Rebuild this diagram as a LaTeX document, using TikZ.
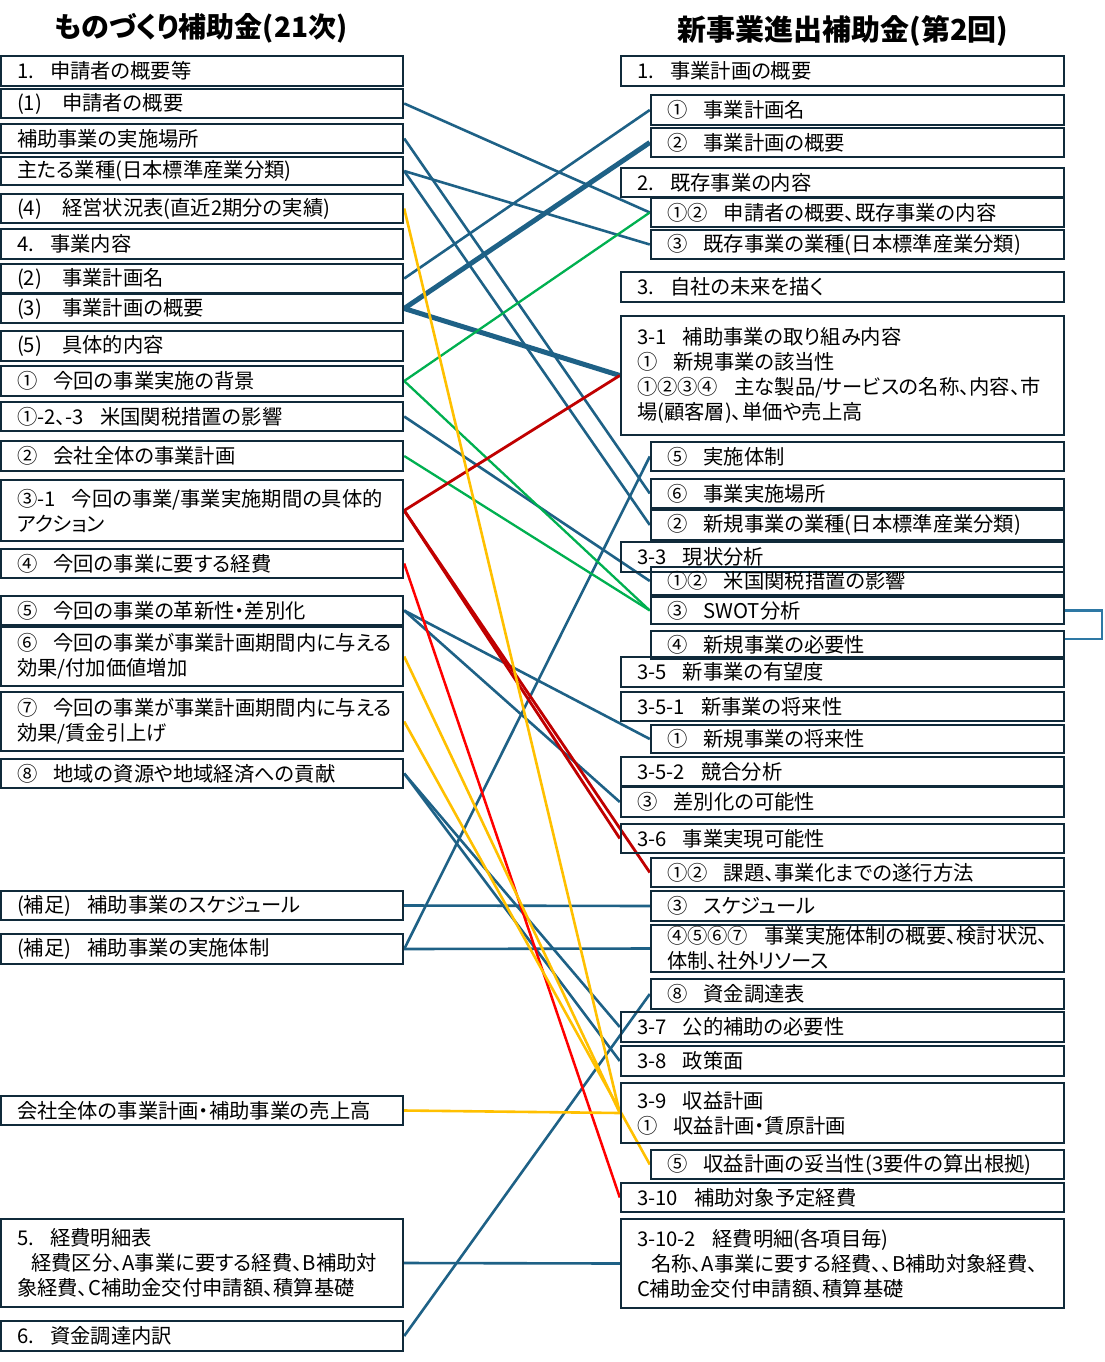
\documentclass[tikz,border=0pt]{standalone}
\usepackage{fontspec}
\setmainfont{Noto Sans CJK JP}[RawFeature=+palt]
\usetikzlibrary{backgrounds}
\definecolor{boxc}{HTML}{102A3A}
\definecolor{cblue}{HTML}{1E6186}
\definecolor{cbrk}{HTML}{2E78A4}
\definecolor{cgreen}{HTML}{00B050}
\definecolor{cyellow}{HTML}{FFC000}
\definecolor{cred}{HTML}{FF0000}
\definecolor{cdred}{HTML}{C00000}
\newcommand{\zgap}{\kern0.8em}
\newcommand{\zpgap}{\kern1.0em}
\newcommand{\zind}{\hspace*{0.7em}}
\newcommand{\bxx}[6]{%
  \pgfmathsetmacro{\zzw}{#4-#2}%
  \pgfmathsetmacro{\zzh}{#5-#3}%
  \pgfmathsetmacro{\zzt}{#4-#2-32}%
  \pgfmathsetmacro{\zzx}{(#2+#4)/2}%
  \pgfmathsetmacro{\zzy}{(#3+#5)/2}%
  \node[bx, minimum width=\zzw pt, minimum height=\zzh pt, text width=\zzt pt] (#1) at (\zzx,\zzy) {#6};}
\begin{document}
\begin{tikzpicture}[x=1pt,y=-1pt,
  bx/.style={draw=boxc, line width=2.4pt, inner xsep=16pt, inner ysep=0pt, align=left,
    font=\fontsize{20.3}{25}\selectfont, text=black},
  ttl/.style={font=\bfseries\fontsize{28}{32}\selectfont, text=black},
  cb/.style={draw=cblue, line width=2.6pt},
  cbt/.style={draw=cblue, line width=5pt},
  cg/.style={draw=cgreen, line width=2.3pt},
  cy/.style={draw=cyellow, line width=2.6pt},
  cr/.style={draw=cred, line width=2.5pt},
  cdr/.style={draw=cdred, line width=2.8pt},
  brk/.style={draw=cbrk, line width=2.4pt}]
\useasboundingbox (0,0) rectangle (1104,1362);

\node[ttl] (tL) at (201,28) {ものづくり補助金(21次)};
\node[ttl, font=\bfseries\fontsize{29}{32}\selectfont] (tR) at (843,31) {新事業進出補助金(第2回)};

% left column
\bxx{L1}{1}{56}{403}{86}{1.\zgap 申請者の概要等}
\bxx{L2}{1}{89}{403}{118}{(1)\zpgap 申請者の概要}
\bxx{L3}{1}{124}{403}{153}{補助事業の実施場所}
\bxx{L4}{1}{157}{403}{185}{主たる業種(日本標準産業分類)}
\bxx{L5}{1}{194}{403}{223}{(4)\zpgap 経営状況表(直近2期分の実績)}
\bxx{L6}{1}{229}{403}{259}{4.\zgap 事業内容}
\bxx{L7}{1}{264}{403}{293}{(2)\zpgap 事業計画名}
\bxx{L8}{1}{294}{403}{323}{(3)\zpgap 事業計画の概要}
\bxx{L9}{1}{331}{403}{361}{(5)\zpgap 具体的内容}
\bxx{L10}{1}{366}{403}{396}{①\zgap 今回の事業実施の背景}
\bxx{L11}{1}{402}{403}{431}{①-2、-3\zgap 米国関税措置の影響}
\bxx{L12}{1}{441}{403}{471}{②\zgap 会社全体の事業計画}
\bxx{L13}{1}{480}{403}{541}{③-1\zgap 今回の事業/事業実施期間の具体的\\アクション}
\bxx{L14}{1}{549}{403}{578}{④\zgap 今回の事業に要する経費}
\bxx{L15}{1}{596}{403}{625}{⑤\zgap 今回の事業の革新性・差別化}
\bxx{L16}{1}{627}{403}{686}{⑥\zgap 今回の事業が事業計画期間内に与える\\効果/付加価値増加}
\bxx{L17}{1}{692}{403}{751}{⑦\zgap 今回の事業が事業計画期間内に与える\\効果/賃金引上げ}
\bxx{L18}{1}{759}{403}{788}{⑧\zgap 地域の資源や地域経済への貢献}
\bxx{L19}{1}{891}{403}{920}{(補足)\zgap 補助事業のスケジュール}
\bxx{L20}{1}{934}{403}{964}{(補足)\zgap 補助事業の実施体制}
\bxx{L21}{1}{1096}{403}{1125}{会社全体の事業計画・補助事業の売上高}
\bxx{L22}{1}{1219}{403}{1307}{5.\zgap 経費明細表\\\zind 経費区分、A事業に要する経費、B補助対\\象経費、C補助金交付申請額、積算基礎}
\bxx{L23}{1}{1321}{403}{1351}{6.\zgap 資金調達内訳}

% right column
\bxx{R1}{621}{56}{1064}{86}{1.\zgap 事業計画の概要}
\bxx{R2}{651}{95}{1064}{125}{①\zgap 事業計画名}
\bxx{R3}{651}{128}{1064}{157}{②\zgap 事業計画の概要}
\bxx{R4}{621}{168}{1064}{197}{2.\zgap 既存事業の内容}
\bxx{R5}{651}{198}{1064}{227}{①②\zgap 申請者の概要、既存事業の内容}
\bxx{R6}{651}{230}{1064}{259}{③\zgap 既存事業の業種(日本標準産業分類)}
\bxx{R7}{621}{272}{1064}{302}{3.\zgap 自社の未来を描く}
\bxx{R8}{621}{316}{1064}{435}{3-1\zgap 補助事業の取り組み内容\\①\zgap 新規事業の該当性\\①②③④\zgap 主な製品/サービスの名称、内容、市\\場(顧客層)、単価や売上高}
\bxx{R9}{651}{442}{1064}{471}{⑤\zgap 実施体制}
\bxx{R10}{651}{479}{1064}{508}{⑥\zgap 事業実施場所}
\bxx{R11}{651}{510}{1064}{540}{②\zgap 新規事業の業種(日本標準産業分類)}
\bxx{R12}{621}{542}{1064}{572}{3-3\zgap 現状分析}
\bxx{R13}{651}{567}{1064}{595}{①②\zgap 米国関税措置の影響}
\bxx{R14}{651}{597}{1064}{624}{③\zgap SWOT分析}
\bxx{R15}{651}{631}{1064}{659}{④\zgap 新規事業の必要性}
\bxx{R16}{621}{657}{1064}{687}{3-5\zgap 新事業の有望度}
\bxx{R17}{621}{692}{1064}{721}{3-5-1\zgap 新事業の将来性}
\bxx{R18}{651}{725}{1064}{753}{①\zgap 新規事業の将来性}
\bxx{R19}{621}{757}{1064}{786}{3-5-2\zgap 競合分析}
\bxx{R20}{621}{787}{1064}{817}{③\zgap 差別化の可能性}
\bxx{R21}{621}{824}{1064}{853}{3-6\zgap 事業実現可能性}
\bxx{R22}{651}{858}{1064}{887}{①②\zgap 課題、事業化までの遂行方法}
\bxx{R23}{651}{891}{1064}{921}{③\zgap スケジュール}
\bxx{R24}{651}{925}{1064}{972}{④⑤⑥⑦\zgap 事業実施体制の概要、検討状況、\\体制、社外リソース}
\bxx{R25}{651}{979}{1064}{1009}{⑧\zgap 資金調達表}
\bxx{R26}{621}{1012}{1064}{1042}{3-7\zgap 公的補助の必要性}
\bxx{R27}{621}{1046}{1064}{1076}{3-8\zgap 政策面}
\bxx{R28}{621}{1083}{1064}{1143}{3-9\zgap 収益計画\\①\zgap 収益計画・賃原計画}
\bxx{R29}{651}{1150}{1064}{1179}{⑤\zgap 収益計画の妥当性(3要件の算出根拠)}
\bxx{R30}{621}{1183}{1064}{1212}{3-10\zgap 補助対象予定経費}
\bxx{R31}{621}{1219}{1064}{1308}{3-10-2\zgap 経費明細(各項目毎)\\\zind 名称、A事業に要する経費、、B補助対象経費、\\C補助金交付申請額、積算基礎}

\begin{pgfonlayer}{background}
% blue
\draw[cb] (L2.east) -- (R5.west);
\draw[cb] (L3.east) -- (R10.west);
\draw[cb] (L4.east) -- (R11.west);
\draw[cb] (L4.east) -- (R6.west);
\draw[cb] (L7.east) -- (R2.west);
\draw[cb] (L11.east) -- (R13.west);
\draw[cb] (L15.east) -- (R18.west);
\draw[cb] (L15.east) -- (R20.west);
\draw[cb] (L18.east) -- (R26.west);
\draw[cb] (L18.east) -- (R27.west);
\draw[cb] (L19.east) -- (R23.west);
\draw[cb] (L20.east) -- (R24.west);
\draw[cb] (L20.east) -- (R9.west);
\draw[cb] (L22.east) -- (R31.west);
\draw[cb] (L23.east) -- (R25.west);
\draw[cbt] (L8.east) -- (R3.west);
\draw[cbt] (L8.east) -- (R8.west);
% green
\draw[cg] (L10.east) -- (R5.west);
\draw[cg] (L10.east) -- (R14.west);
\draw[cg] (L12.east) -- (R14.west);
% red
\draw[cdr] (L13.east) -- (R8.west);
\draw[cdr] (L13.east) -- (R21.west);
\draw[cdr] (L13.east) -- (R22.west);
\draw[cr] (L14.east) -- (R30.west);
% yellow
\draw[cy] (L5.east) -- (R28.west);
\draw[cy] (L16.east) -- (R28.west);
\draw[cy] (L17.east) -- (R29.west);
\draw[cy] (L21.east) -- (R28.west);
% bracket
\draw[brk] (R14.east) -- ++(37,0) |- ([yshift=6pt]R15.east);
\end{pgfonlayer}
\end{tikzpicture}
\end{document}
